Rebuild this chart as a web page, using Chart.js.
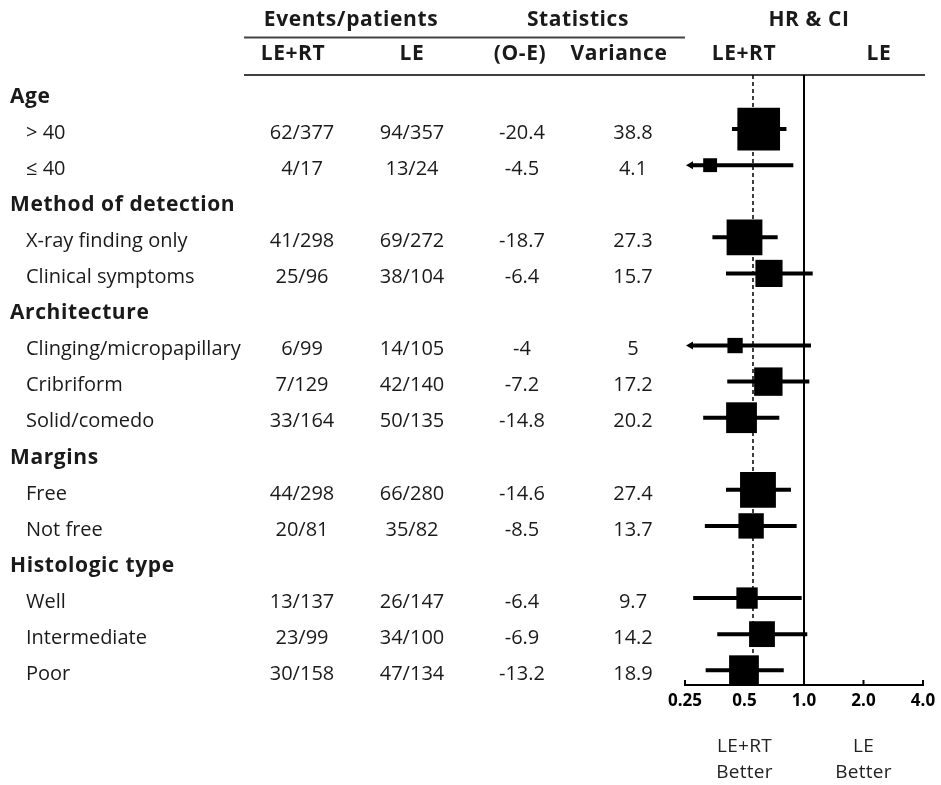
<!DOCTYPE html>
<html>
<head>
<meta charset="utf-8">
<script src="https://cdn.jsdelivr.net/npm/chart.js@4.4.1/dist/chart.umd.min.js"></script>
<style>
  html, body { margin: 0; padding: 0; background: #fff; overflow: hidden; }
  canvas { display: block; }
</style>
</head>
<body>
<canvas id="forest" width="941" height="785"></canvas>
<script>
// Rows from top to bottom; heading rows have no numbers (null)
const rowLabels = ['Age', '> 40', '\u2264 40',
    'Method of detection', 'X-ray finding only', 'Clinical symptoms',
    'Architecture', 'Clinging/micropapillary', 'Cribriform', 'Solid/comedo',
    'Margins', 'Free', 'Not free',
    'Histologic type', 'Well', 'Intermediate', 'Poor'];
const eventsLERT = [null, '62/377', '4/17', null, '41/298', '25/96', null, '6/99', '7/129', '33/164',
    null, '44/298', '20/81', null, '13/137', '23/99', '30/158'];
const eventsLE = [null, '94/357', '13/24', null, '69/272', '38/104', null, '14/105', '42/140', '50/135',
    null, '66/280', '35/82', null, '26/147', '34/100', '47/134'];
const oMinusE = [null, -20.4, -4.5, null, -18.7, -6.4, null, -4, -7.2, -14.8,
    null, -14.6, -8.5, null, -6.4, -6.9, -13.2];
const variance = [null, 38.8, 4.1, null, 27.3, 15.7, null, 5, 17.2, 20.2,
    null, 27.4, 13.7, null, 9.7, 14.2, 18.9];
// hazard ratios and 95% CI
const hr = [null, 0.59, 0.335, null, 0.50, 0.665, null, 0.448, 0.66, 0.483,
    null, 0.585, 0.54, null, 0.515, 0.613, 0.497];
const ciLow = [null, 0.432, 0.13, null, 0.344, 0.403, null, 0.19, 0.409, 0.309,
    null, 0.403, 0.315, null, 0.275, 0.364, 0.318];
const ciHigh = [null, 0.815, 0.883, null, 0.736, 1.107, null, 1.085, 1.064, 0.75,
    null, 0.859, 0.918, null, 0.973, 1.039, 0.79];
const overallHR = 0.552;
const tickValues = [0.25, 0.5, 1, 2, 4];
const tickLabels = ['0.25', '0.5', '1.0', '2.0', '4.0'];

const FONT = '"Open Sans", "Noto Sans", sans-serif';
const TEXT = '#1a1a1a';

// box side grows with the square root of the variance (weight)
function boxRadius(v) {
    return 6.85 * Math.sqrt(v) / (2 * Math.SQRT1_2);
}

const points = [];
hr.forEach((v, i) => {
    if (v !== null) points.push({ x: v, y: i });
});

function boldText(ctx) {
    ctx.font = 'bold 21px ' + FONT;
    ctx.letterSpacing = '0.6px';
}
function plainText(ctx) {
    ctx.font = '20px ' + FONT;
    ctx.letterSpacing = '0px';
}

const forestPlugin = {
    id: 'forestTable',
    beforeDatasetsDraw(chart) {
        const { ctx, chartArea: a, scales: { x, y } } = chart;
        ctx.save();
        ctx.strokeStyle = '#000';
        ctx.fillStyle = '#000';

        // line of no effect
        const x1 = x.getPixelForValue(1);
        ctx.lineWidth = 2;
        ctx.beginPath();
        ctx.moveTo(x1, a.top);
        ctx.lineTo(x1, a.bottom);
        ctx.stroke();

        // overall effect
        const xo = x.getPixelForValue(overallHR);
        ctx.lineWidth = 1.5;
        ctx.setLineDash([4, 3]);
        ctx.beginPath();
        ctx.moveTo(xo, a.top);
        ctx.lineTo(xo, a.bottom);
        ctx.stroke();
        ctx.setLineDash([]);

        // confidence intervals
        ctx.lineWidth = 4;
        hr.forEach((v, i) => {
            if (v === null) return;
            const py = y.getPixelForValue(i);
            const clipped = ciLow[i] < x.min;
            const x0 = x.getPixelForValue(clipped ? x.min : ciLow[i]);
            const x2 = x.getPixelForValue(ciHigh[i]);
            ctx.beginPath();
            ctx.moveTo(clipped ? x0 + 5 : x0, py);
            ctx.lineTo(x2, py);
            ctx.stroke();
            if (clipped) {
                ctx.beginPath();
                ctx.moveTo(x0 + 1, py);
                ctx.lineTo(x0 + 8, py - 4);
                ctx.lineTo(x0 + 8, py + 4);
                ctx.closePath();
                ctx.fill();
            }
        });

        // tick marks point up into the plot
        ctx.lineWidth = 2;
        ctx.beginPath();
        tickValues.forEach(t => {
            const px = x.getPixelForValue(t);
            ctx.moveTo(px, a.bottom);
            ctx.lineTo(px, a.bottom - 5);
        });
        ctx.stroke();
        ctx.restore();
    },
    afterDraw(chart) {
        const { ctx, scales: { x, y } } = chart;
        ctx.save();
        ctx.fillStyle = TEXT;
        ctx.textBaseline = 'middle';

        // header
        boldText(ctx);
        ctx.textAlign = 'center';
        ctx.fillText('Events/patients', 351, 20);
        ctx.fillText('Statistics', 578, 20);
        ctx.fillText('HR & CI', 809, 20);
        ctx.fillText('LE+RT', 293, 54);
        ctx.fillText('LE', 412, 54);
        ctx.fillText('(O-E)', 520, 54);
        ctx.fillText('Variance', 619, 54);
        ctx.fillText('LE+RT', 744, 54);
        ctx.fillText('LE', 879, 54);

        ctx.strokeStyle = '#444';
        ctx.lineWidth = 2;
        ctx.beginPath();
        ctx.moveTo(244, 37.5);
        ctx.lineTo(685, 37.5);
        ctx.stroke();
        ctx.strokeStyle = '#000';
        ctx.lineWidth = 1.5;
        ctx.beginPath();
        ctx.moveTo(244, 75);
        ctx.lineTo(925, 75);
        ctx.stroke();

        // table body
        rowLabels.forEach((label, i) => {
            const py = y.getPixelForValue(i) + 4;
            if (hr[i] === null) {
                boldText(ctx);
                ctx.textAlign = 'left';
                ctx.fillText(label, 10, py);
                return;
            }
            plainText(ctx);
            ctx.textAlign = 'left';
            ctx.fillText(label, 26, py);
            ctx.textAlign = 'center';
            ctx.fillText(eventsLERT[i], 302, py);
            ctx.fillText(eventsLE[i], 412, py);
            ctx.fillText(String(oMinusE[i]), 522, py);
            ctx.fillText(String(variance[i]), 633, py);
        });

        // favours labels under the axis
        ctx.font = '19px ' + FONT;
        ctx.letterSpacing = '0.3px';
        ctx.fillStyle = '#222';
        ctx.textAlign = 'center';
        const xa = x.getPixelForValue(0.5), xb = x.getPixelForValue(2);
        ctx.fillText('LE+RT', xa, 747);
        ctx.fillText('Better', xa, 773);
        ctx.fillText('LE', xb, 747);
        ctx.fillText('Better', xb, 773);
        ctx.restore();
    }
};

new Chart(document.getElementById('forest'), {
    type: 'scatter',
    data: {
        datasets: [{
            data: points,
            pointStyle: 'rect',
            pointRadius: c => boxRadius(variance[c.raw.y]),
            pointHoverRadius: c => boxRadius(variance[c.raw.y]),
            backgroundColor: '#000',
            borderWidth: 0
        }]
    },
    options: {
        responsive: false,
        animation: false,
        // big boxes would otherwise push the plot area in
        layout: { autoPadding: false, padding: { left: 685, right: 18, top: 75, bottom: 0 } },
        plugins: { legend: { display: false }, tooltip: { enabled: false } },
        scales: {
            x: {
                type: 'logarithmic',
                min: 0.25,
                max: 4,
                afterBuildTicks: s => { s.ticks = tickValues.map(v => ({ value: v })); },
                afterFit: s => {
                    s.height = 100;
                    s.paddingLeft = 0;
                    s.paddingRight = 0;
                },
                ticks: {
                    callback: (v, idx) => tickLabels[idx],
                    font: { family: FONT, size: 17, weight: 'bold' },
                    color: '#000',
                    padding: 6,
                    maxRotation: 0,
                    autoSkip: false
                },
                grid: { display: false, drawTicks: false },
                border: { display: true, color: '#000', width: 2 }
            },
            y: {
                type: 'linear',
                display: false,
                reverse: true,
                min: -0.5,
                max: 16.41
            }
        }
    },
    plugins: [forestPlugin]
});
</script>
</body>
</html>
